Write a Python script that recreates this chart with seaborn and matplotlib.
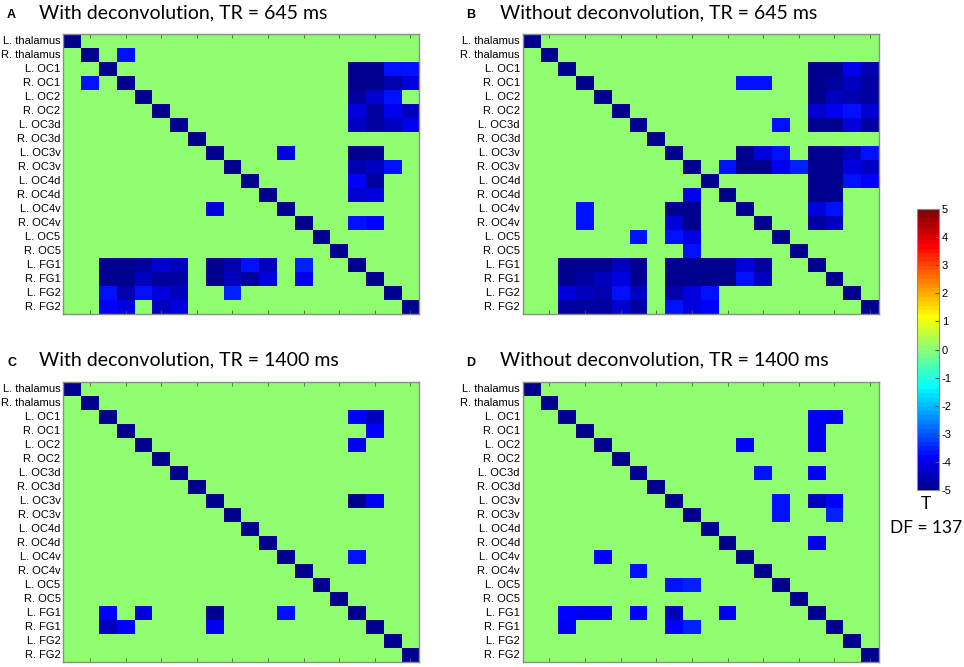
import numpy as np
import pandas as pd
import matplotlib
matplotlib.use("Agg")
import matplotlib.pyplot as plt
from matplotlib.colors import ListedColormap
import seaborn as sns

plt.rcParams["axes.unicode_minus"] = False

# region labels (rows and columns are the same regions)
regions = ["L. thalamus", "R. thalamus", "L. OC1", "R. OC1", "L. OC2", "R. OC2",
           "L. OC3d", "R. OC3d", "L. OC3v", "R. OC3v", "L. OC4d", "R. OC4d",
           "L. OC4v", "R. OC4v", "L. OC5", "R. OC5", "L. FG1", "R. FG1",
           "L. FG2", "R. FG2"]

diag_value = -5

# significant off-diagonal T values: (row, col, T)
cells_a = [(1, 3, -3.6),
           (2, 16, -5), (2, 17, -5), (2, 18, -3.6), (2, 19, -3.7),
           (3, 1, -3.6), (3, 16, -5), (3, 17, -5), (3, 18, -4.6), (3, 19, -4.1),
           (4, 16, -4.8), (4, 17, -4.3), (4, 18, -3.6),
           (5, 16, -4.2), (5, 17, -4.8), (5, 18, -4.0), (5, 19, -4.5),
           (6, 16, -4.4), (6, 17, -4.8), (6, 18, -4.5), (6, 19, -4.0),
           (8, 12, -4.1), (8, 16, -5), (8, 17, -5),
           (9, 16, -4.6), (9, 17, -4.5), (9, 18, -3.6),
           (10, 16, -3.8), (10, 17, -4.7),
           (11, 16, -4.3), (11, 17, -4.1),
           (12, 8, -4.2),
           (13, 16, -3.6), (13, 17, -3.9),
           (16, 2, -5), (16, 3, -5), (16, 4, -4.8), (16, 5, -4.3), (16, 6, -4.5),
           (16, 8, -5), (16, 9, -4.6), (16, 10, -3.7), (16, 11, -4.5), (16, 13, -3.5),
           (17, 2, -5), (17, 3, -5), (17, 4, -4.4), (17, 5, -4.8), (17, 6, -4.7),
           (17, 8, -5), (17, 9, -4.4), (17, 10, -4.7), (17, 11, -4.1), (17, 13, -4.0),
           (18, 2, -3.6), (18, 3, -4.6), (18, 4, -3.6), (18, 5, -4.1), (18, 6, -4.5),
           (18, 9, -3.5),
           (19, 2, -3.8), (19, 3, -4.1), (19, 5, -4.5), (19, 6, -4.1)]

cells_b = [(2, 16, -5), (2, 17, -5), (2, 18, -4.0), (2, 19, -4.6),
           (3, 12, -3.6), (3, 13, -3.7), (3, 16, -5), (3, 17, -4.7), (3, 18, -4.5), (3, 19, -4.8),
           (4, 16, -5), (4, 17, -4.5), (4, 18, -4.6), (4, 19, -4.7),
           (5, 16, -4.3), (5, 17, -4.0), (5, 18, -3.6), (5, 19, -4.3),
           (6, 14, -3.6), (6, 16, -5), (6, 17, -5), (6, 18, -4.2), (6, 19, -4.8),
           (8, 12, -5), (8, 13, -4.1), (8, 14, -3.6), (8, 16, -5), (8, 17, -5),
           (8, 18, -4.5), (8, 19, -3.6),
           (9, 11, -3.7), (9, 12, -5), (9, 13, -5), (9, 14, -4.0), (9, 15, -3.5),
           (9, 16, -5), (9, 17, -5), (9, 18, -4.1), (9, 19, -4.4),
           (10, 16, -5), (10, 17, -5), (10, 18, -3.7), (10, 19, -3.8),
           (11, 9, -4.0), (11, 16, -5), (11, 17, -5),
           (12, 3, -3.6), (12, 8, -5), (12, 9, -5), (12, 16, -4.1), (12, 17, -3.6),
           (13, 3, -3.6), (13, 8, -4.2), (13, 9, -5), (13, 16, -4.7), (13, 17, -4.4),
           (14, 6, -3.6), (14, 8, -3.6), (14, 9, -4.2),
           (15, 9, -3.6),
           (16, 2, -5), (16, 3, -5), (16, 4, -5), (16, 5, -4.4), (16, 6, -5),
           (16, 8, -5), (16, 9, -5), (16, 10, -5), (16, 11, -5), (16, 12, -4.1), (16, 13, -4.7),
           (17, 2, -5), (17, 3, -4.7), (17, 4, -4.5), (17, 5, -4.1), (17, 6, -5),
           (17, 8, -5), (17, 9, -5), (17, 10, -5), (17, 11, -5), (17, 12, -3.7), (17, 13, -4.4),
           (18, 2, -4.1), (18, 3, -4.5), (18, 4, -4.6), (18, 5, -3.6), (18, 6, -4.4),
           (18, 8, -4.6), (18, 9, -4.1), (18, 10, -3.7),
           (19, 2, -4.7), (19, 3, -4.8), (19, 4, -4.7), (19, 5, -4.3), (19, 6, -4.8),
           (19, 8, -3.6), (19, 9, -4.2), (19, 10, -3.8)]

cells_c = [(2, 16, -3.8), (2, 17, -4.5),
           (3, 17, -3.8),
           (4, 16, -4.0),
           (8, 16, -4.9), (8, 17, -4.0),
           (12, 16, -3.6),
           (16, 2, -3.8), (16, 4, -4.1), (16, 8, -4.9), (16, 12, -3.6),
           (17, 2, -4.4), (17, 3, -3.9), (17, 8, -4.0)]

cells_d = [(2, 16, -3.9), (2, 17, -4.0),
           (3, 16, -4.0),
           (4, 12, -3.8), (4, 16, -4.0),
           (6, 13, -3.6), (6, 16, -3.9),
           (8, 14, -3.7), (8, 16, -4.4), (8, 17, -3.8),
           (9, 14, -3.6), (9, 17, -3.5),
           (11, 16, -4.0),
           (12, 4, -3.8),
           (13, 6, -3.7),
           (14, 8, -3.7), (14, 9, -3.5),
           (16, 2, -3.9), (16, 3, -4.0), (16, 4, -4.0), (16, 6, -3.9), (16, 8, -4.5), (16, 11, -4.0),
           (17, 2, -4.0), (17, 8, -3.8), (17, 9, -3.5)]

titles = ["With deconvolution, TR = 645 ms", "Without deconvolution, TR = 645 ms",
          "With deconvolution, TR = 1400 ms", "Without deconvolution, TR = 1400 ms"]
letters = ["A", "B", "C", "D"]
cbar_ticks = [-5, -4, -3, -2, -1, 0, 1, 2, 3, 4, 5]


def build_matrix(cells):
    m = np.zeros((len(regions), len(regions)))
    np.fill_diagonal(m, diag_value)
    for r, c, v in cells:
        m[r, c] = v
    return pd.DataFrame(m, index=regions, columns=regions)


def matlab_jet(m=64):
    # same construction as MATLAB's jet(m)
    n = int(np.ceil(m / 4))
    u = np.concatenate([np.arange(1, n + 1) / n, np.ones(n - 1), np.arange(n, 0, -1) / n])
    g = int(np.ceil(n / 2)) - (1 if m % 4 == 1 else 0) + np.arange(1, len(u) + 1)
    r = g + n
    b = g - n
    J = np.zeros((m, 3))
    J[r[r <= m] - 1, 0] = u[r <= m]
    J[g[g <= m] - 1, 1] = u[g <= m]
    J[b[b >= 1] - 1, 2] = u[b >= 1]
    return ListedColormap(J)


cmap = matlab_jet(64)
W, H = 964, 667
fig = plt.figure(figsize=(W / 100, H / 100), dpi=100)

# axes boxes in pixels: left, top, right, bottom
boxes = [(63.3, 34, 419.3, 314), (522.7, 34, 879, 314),
         (63.3, 382.3, 419.3, 662.3), (522.7, 382.3, 879, 662.3)]
title_pos = [(7, 39, 18.5), (466, 500, 18.5), (7, 39, 365.5), (466, 500, 365.5)]
spine_col = "#8c8c8c"

for cells, box, title, letter, tp in zip([cells_a, cells_b, cells_c, cells_d],
                                         boxes, titles, letters, title_pos):
    l, t, r, b = box
    ax = fig.add_axes([l / W, 1 - b / H, (r - l) / W, (b - t) / H])
    hm = sns.heatmap(build_matrix(cells), cmap=cmap, vmin=-5, vmax=5, cbar=False, ax=ax)
    ax.set_xticks([])
    ax.set_yticks(np.arange(len(regions)) + 0.5)
    ax.set_yticklabels(regions, rotation=0, fontsize=8, family="Liberation Sans")
    ax.tick_params(axis="y", length=0, pad=2)
    # matlab-like inward ticks on every second cell
    ax.set_xticks(np.arange(1, len(regions), 2) + 0.5, minor=True)
    ax.set_yticks(np.arange(1, len(regions), 2) + 0.5, minor=True)
    ax.tick_params(which="minor", direction="in", length=3, color="#555555",
                   top=True, bottom=True, left=True, right=True)
    for s in ax.spines.values():
        s.set_visible(True)
        s.set_color(spine_col)
        s.set_linewidth(1)
    ax.set_xlabel("")
    ax.set_ylabel("")
    fig.text(tp[0] / W, 1 - tp[2] / H, letter, fontsize=9, fontweight="bold",
             family="Liberation Sans", va="baseline")
    fig.text(tp[1] / W, 1 - tp[2] / H, title, fontsize=14, family="Lato", va="baseline")

# colour bar
cax = fig.add_axes([917 / W, 1 - 490 / H, 22 / W, 281 / H])
cb = fig.colorbar(hm.collections[0], cax=cax, ticks=cbar_ticks)
cb.ax.tick_params(direction="in", length=3, labelsize=8, pad=2, color="#555555")
for lab in cb.ax.get_yticklabels():
    lab.set_family("Liberation Sans")
cb.outline.set_edgecolor(spine_col)
fig.text(926 / W, 1 - 509 / H, "T", fontsize=12.5, family="Lato", ha="center", va="baseline")
fig.text(926 / W, 1 - 533 / H, "DF = 137", fontsize=12.5, family="Lato", ha="center", va="baseline")

fig.savefig("out.png", dpi=100)
